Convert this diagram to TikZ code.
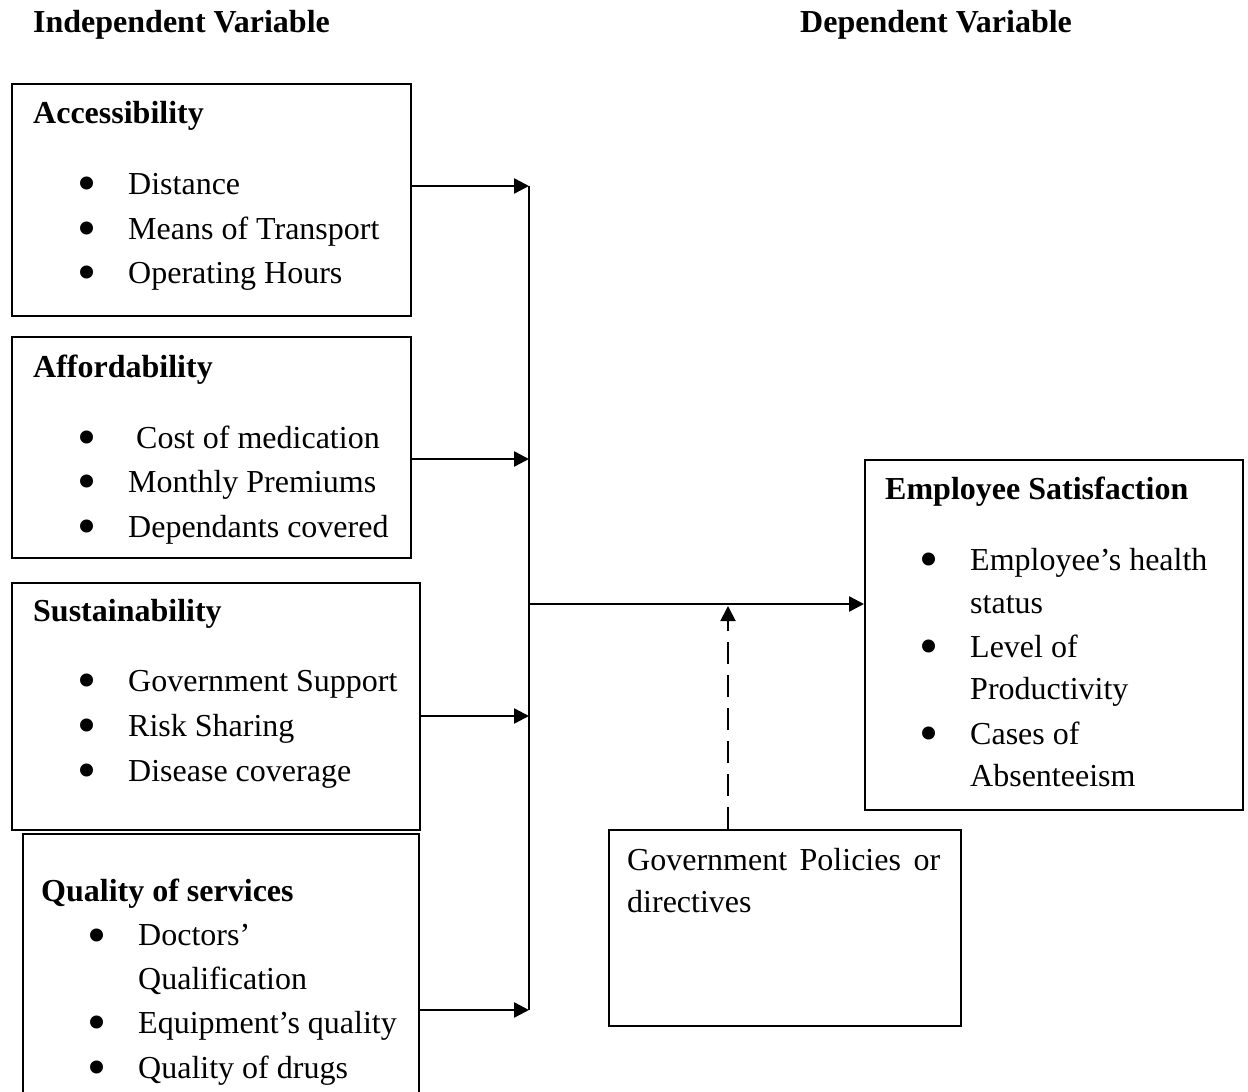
\documentclass[tikz,border=0pt]{standalone}
\usepackage{fontspec}
\usepackage{graphicx}
\setmainfont{Liberation Serif}
\usetikzlibrary{arrows.meta}
\newcommand{\bigbul}{\smash{\scalebox{1.7}{•}}}
\begin{document}
\begin{tikzpicture}[x=1pt,y=-1pt,
  box/.style={draw, line width=1.8pt, rectangle, inner sep=0pt, anchor=north west},
  txt/.style={anchor=base west, inner sep=0pt, font=\fontsize{32}{38}\selectfont},
  hd/.style={txt, font=\fontsize{32}{38}\selectfont\bfseries},
  bul/.style={anchor=base, inner sep=0pt, font=\fontsize{32}{32}\selectfont, yshift=-16pt},
  arr/.style={line width=2.5pt, -{Triangle[length=15pt,width=15pt]}},
  ln/.style={line width=2pt}]
\useasboundingbox (0,0) rectangle (1248,1092);

% headers
\node[hd] (ivh) at (33,32) {Independent Variable};
\node[hd] (dvh) at (800,32) {Dependent Variable};

% boxes
\node[box, minimum width=399pt, minimum height=232pt] (acc) at (11,83) {};
\node[box, minimum width=399pt, minimum height=221pt] (aff) at (11,336) {};
\node[box, minimum width=408pt, minimum height=247pt] (sus) at (11,582) {};
\node[box, minimum width=396pt, minimum height=290pt] (qos) at (22,833) {};
\node[box, minimum width=378pt, minimum height=350pt] (es) at (864,459) {};
\node[box, minimum width=352pt, minimum height=196pt] (gp) at (608,829) {};

% Accessibility
\node[hd] (t1) at (33,123) {Accessibility};
\node[bul] (b11) at (87,185) {\bigbul}; \node[txt] (t11) at (128,194) {Distance};
\node[bul] (b12) at (87,230) {\bigbul}; \node[txt] (t12) at (128,239) {Means of Transport};
\node[bul] (b13) at (87,274) {\bigbul}; \node[txt] (t13) at (128,283) {Operating Hours};

% Affordability
\node[hd] (t2) at (33,377) {Affordability};
\node[bul] (b21) at (87,439) {\bigbul}; \node[txt] (t21) at (136,448) {Cost of medication};
\node[bul] (b22) at (87,483) {\bigbul}; \node[txt] (t22) at (128,492) {Monthly Premiums};
\node[bul] (b23) at (87,528) {\bigbul}; \node[txt] (t23) at (128,537) {Dependants covered};

% Sustainability
\node[hd] (t3) at (33,621) {Sustainability};
\node[bul] (b31) at (87,682) {\bigbul}; \node[txt] (t31) at (128,691) {Government Support};
\node[bul] (b32) at (87,727) {\bigbul}; \node[txt] (t32) at (128,736) {Risk Sharing};
\node[bul] (b33) at (87,772) {\bigbul}; \node[txt] (t33) at (128,781) {Disease coverage};

% Quality of services
\node[hd] (t4) at (41,901) {Quality of services};
\node[bul] (b41) at (97,937) {\bigbul}; \node[txt] (t41) at (138,945) {Doctors’};
\node[txt] (t41b) at (138,989) {Qualification};
\node[bul] (b42) at (97,1024) {\bigbul}; \node[txt] (t42) at (138,1033) {Equipment’s quality};
\node[bul] (b43) at (97,1069) {\bigbul}; \node[txt] (t43) at (138,1078) {Quality of drugs};

% Employee Satisfaction
\node[hd] (t5) at (885,499) {Employee Satisfaction};
\node[bul] (b51) at (929,561) {\bigbul}; \node[txt] (t51) at (970,570) {Employee’s health};
\node[txt] (t51b) at (970,613) {status};
\node[bul] (b52) at (929,648) {\bigbul}; \node[txt] (t52) at (970,657) {Level of};
\node[txt] (t52b) at (970,699) {Productivity};
\node[bul] (b53) at (929,735) {\bigbul}; \node[txt] (t53) at (970,744) {Cases of};
\node[txt] (t53b) at (970,786) {Absenteeism};

% Government policies
\node[txt] (t6) at (627,870) {\makebox[313pt][s]{Government Policies or}};
\node[txt] (t6b) at (627,912) {directives};

% junctions
\coordinate (j1) at (529,186);
\coordinate (j2) at (529,459);
\coordinate (j3) at (529,716);
\coordinate (j4) at (529,1010);
\coordinate (jm) at (529,604);
\coordinate (dtop) at (728,604);
\coordinate (dbot) at (728,829);

\draw[ln] (j1) -- (j4);
\draw[arr] (j1 -| acc.east) -- (j1);
\draw[arr] (j2 -| aff.east) -- (j2);
\draw[arr] (j3 -| sus.east) -- (j3);
\draw[arr] (j4 -| qos.east) -- (j4);
\draw[arr] (jm) -- (jm -| es.west);
\draw[arr, line width=2pt, dash pattern=on 22pt off 11pt] (dbot) -- ([yshift=-2pt]dtop);
\end{tikzpicture}
\end{document}
